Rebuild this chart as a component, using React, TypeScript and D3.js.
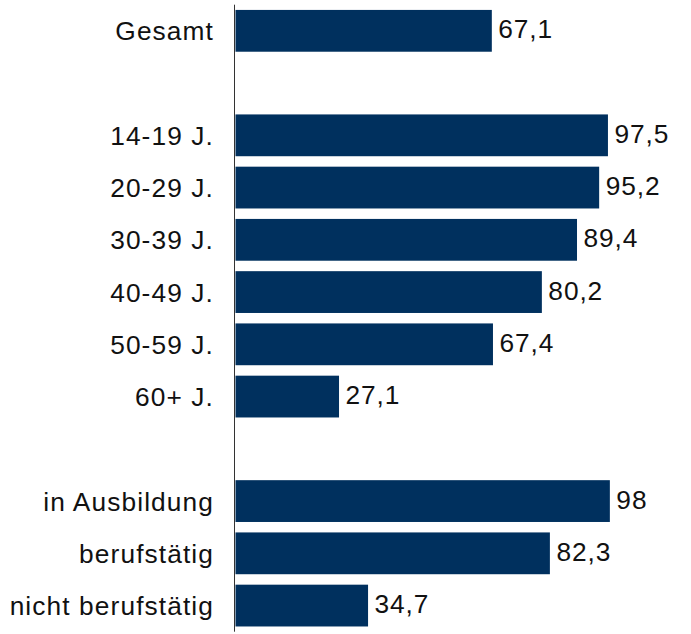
import React from "react";
import * as d3 from "d3";

const categories = [
  "Gesamt",
  "",
  "14-19 J.",
  "20-29 J.",
  "30-39 J.",
  "40-49 J.",
  "50-59 J.",
  "60+ J.",
  "",
  "in Ausbildung",
  "berufstätig",
  "nicht berufstätig",
];
const values: (number | null)[] = [67.1, null, 97.5, 95.2, 89.4, 80.2, 67.4, 27.1, null, 98, 82.3, 34.7];

const W = 691;
const H = 634;
const BAR = "#00305E";
const FONT = "'Liberation Sans', Arial, Helvetica, sans-serif";

export default function App() {
  const idx = categories.map((_, i) => String(i));
  const y = d3.scaleBand<string>().domain(idx).range([4.7, 631.7]).paddingInner(0.2).paddingOuter(0.1);
  const x = d3.scaleLinear().domain([0, 100]).range([235.5, 617.5]);
  const fmt = (v: number) => String(v).replace(".", ",");
  return (
    <svg width={W} height={H} style={{ position: "absolute", left: 0, top: 0 }} fontFamily={FONT}>
      <rect x={0} y={0} width={W} height={H} fill="#fff" />
      {categories.map((c, i) => {
        const v = values[i];
        const yy = y(String(i))!;
        const bw = y.bandwidth();
        const cy = yy + bw / 2;
        return (
          <g key={i}>
            {c && (
              <text x={214} y={cy + 9.5} textAnchor="end" fontSize={26.3} letterSpacing={1.1} fill="#111">
                {c}
              </text>
            )}
            {v != null && (
              <>
                <rect x={x(0)} y={yy} width={x(v) - x(0)} height={bw} fill={BAR} />
                <text x={x(v) + 6.5} y={cy + 7.5} fontSize={26.3} letterSpacing={0.9} fill="#111">
                  {fmt(v)}
                </text>
              </>
            )}
          </g>
        );
      })}
      <line x1={234.5} x2={234.5} y1={y.range()[0]} y2={y.range()[1]} stroke="#333" strokeWidth={1} />
    </svg>
  );
}
